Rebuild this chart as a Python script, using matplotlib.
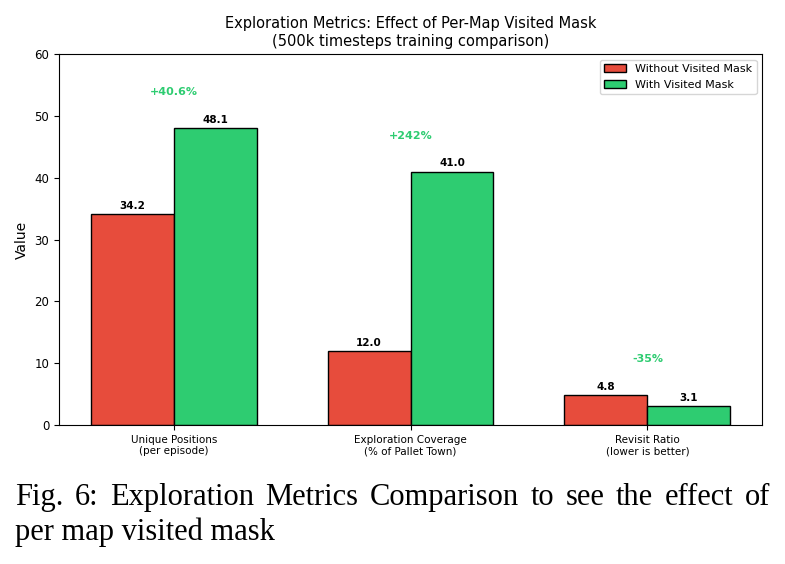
import matplotlib
matplotlib.use("Agg")
import matplotlib.pyplot as plt
import numpy as np

categories = ["Unique Positions\n(per episode)",
              "Exploration Coverage\n(% of Pallet Town)",
              "Revisit Ratio\n(lower is better)"]
without_mask = [34.2, 12.0, 4.8]
with_mask = [48.1, 41.0, 3.1]
improvements = ["+40.6%", "+242%", "-35%"]

caption1 = "Fig. 6: Exploration Metrics Comparison to see the effect of"
caption2 = "per map visited mask"

red = "#e74c3c"
green = "#2ecc71"

fig = plt.figure(figsize=(7.85, 5.64), dpi=100)
ax = fig.add_axes([0.075, 0.2465, 0.896, 0.6575])

x = np.arange(len(categories))
w = 0.35
b1 = ax.bar(x - w/2, without_mask, w, color=red, edgecolor="black", linewidth=1,
            label="Without Visited Mask")
b2 = ax.bar(x + w/2, with_mask, w, color=green, edgecolor="black", linewidth=1,
            label="With Visited Mask")

for bars in (b1, b2):
    for b in bars:
        h = b.get_height()
        ax.text(b.get_x() + b.get_width()/2, h + 0.5, f"{h:.1f}",
                ha="center", va="bottom", fontsize=7.5, fontweight="bold")

for i, txt in enumerate(improvements):
    top = max(without_mask[i], with_mask[i])
    ax.text(x[i], top + 5, txt, ha="center", va="bottom", fontsize=8,
            fontweight="bold", color=green)

ax.set_ylim(0, 60)
ax.set_xticks(x)
ax.set_xticklabels(categories, fontsize=7.5)
ax.tick_params(axis="y", labelsize=8.5)
ax.set_ylabel("Value", fontsize=10)
ax.set_title("Exploration Metrics: Effect of Per-Map Visited Mask\n(500k timesteps training comparison)",
             fontsize=10.5)
ax.legend(loc="upper right", fontsize=8)

# caption, first line justified between x0 and x1 (figure fraction)
cap_kw = dict(family="Liberation Serif", fontsize=22, va="baseline")
x0, x1 = 0.019, 0.981
words = caption1.split()
texts = [fig.text(x0, 0.105, wd, **cap_kw) for wd in words]
fig.canvas.draw()
r = fig.canvas.get_renderer()
widths = [t.get_window_extent(r).width / fig.bbox.width for t in texts]
gap = (x1 - x0 - sum(widths)) / (len(words) - 1)
pos = x0
for t, wd in zip(texts, widths):
    t.set_x(pos)
    pos += wd + gap
fig.text(x0, 0.042, caption2, **cap_kw)

fig.savefig("out.png", dpi=100)
